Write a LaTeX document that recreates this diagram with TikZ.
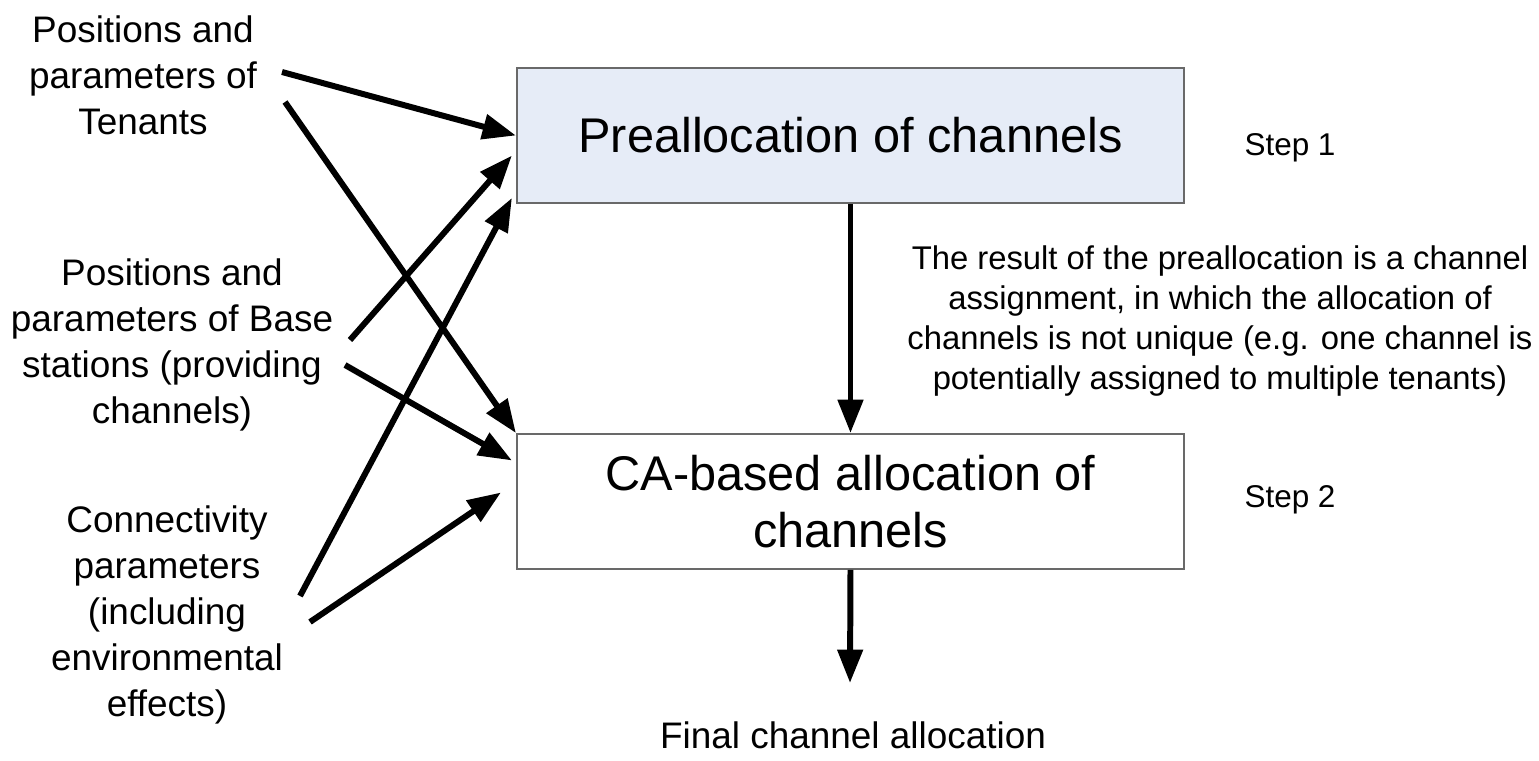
\documentclass[tikz,border=0pt]{standalone}
\usepackage{fontspec}
\setmainfont{Liberation Sans}
\usetikzlibrary{arrows.meta,calc,positioning}

\definecolor{boxblue}{RGB}{230,236,247}
\definecolor{boxline}{RGB}{105,105,105}

\tikzset{
  stepbox/.style={draw=boxline, line width=0.5pt, minimum width=6.67cm, minimum height=1.35cm,
    inner sep=0pt, align=center, font=\fontsize{13.85}{16.2}\selectfont},
  inlabel/.style={align=center, inner sep=0pt, font=\fontsize{10.5}{13.1}\selectfont},
  steplabel/.style={inner sep=0pt, font=\fontsize{8.95}{11}\selectfont},
  flow/.style={line width=1.7pt, -{Triangle[length=9.5pt,width=7pt]}},
}

\begin{document}
\begin{tikzpicture}[x=0.01cm,y=-0.01cm]
\useasboundingbox (0,0) rectangle (1539,760);

% the two steps
\node[stepbox,fill=boxblue] (pre) at (850.5,135.5) {Preallocation of channels};
\node[stepbox,fill=white,below=2.29cm of pre] (ca) {CA-based allocation of\\channels};

\node[steplabel] (step1) at (1290,148) {Step 1};
\node[steplabel] (step2) at (1290,500) {Step 2};

% inputs
\node[inlabel] (tenants) at (143,75) {Positions and\\parameters of\\Tenants};
\node[inlabel] (base) at (172,345) {Positions and\\parameters of Base\\stations (providing\\channels)};
\node[inlabel] (conn) at (167,615) {Connectivity\\parameters\\(including\\environmental\\effects)};

% result of step 1
\node[align=center, inner sep=0pt, font=\fontsize{9.33}{11.4}\selectfont] (note) at (1220,321)
  {The result of the preallocation is a channel\\assignment, in which the allocation of\\channels is not unique (e.g. one channel is\\potentially assigned to multiple tenants)};

\node[inlabel] (final) at (853,735) {Final channel allocation};

% arrow ends
\coordinate (t1) at (282,72);
\coordinate (t2) at (285,102);
\coordinate (b1) at (350,340);
\coordinate (b2) at (345,365);
\coordinate (c1) at (300,596);
\coordinate (c2) at (310,622);
\coordinate (preB) at ($(pre.west)+(-4,20)$);
\coordinate (preC) at ($(pre.south west)+(-4,-6)$);
\coordinate (caB) at ($(ca.west)+(-4,-41)$);
\coordinate (caC) at ($(ca.west)+(-15,-9)$);
\coordinate (out) at (850,683);

\draw[flow] (t1) -- (pre.west);
\draw[flow] (t2) -- (ca.north west);
\draw[flow] (b1) -- (preB);
\draw[flow] (b2) -- (caB);
\draw[flow] (c1) -- (preC);
\draw[flow] (c2) -- (caC);

\draw[flow] (pre.south) -- (ca.north);
\draw[flow] (ca.south) -- (out);

\end{tikzpicture}
\end{document}
